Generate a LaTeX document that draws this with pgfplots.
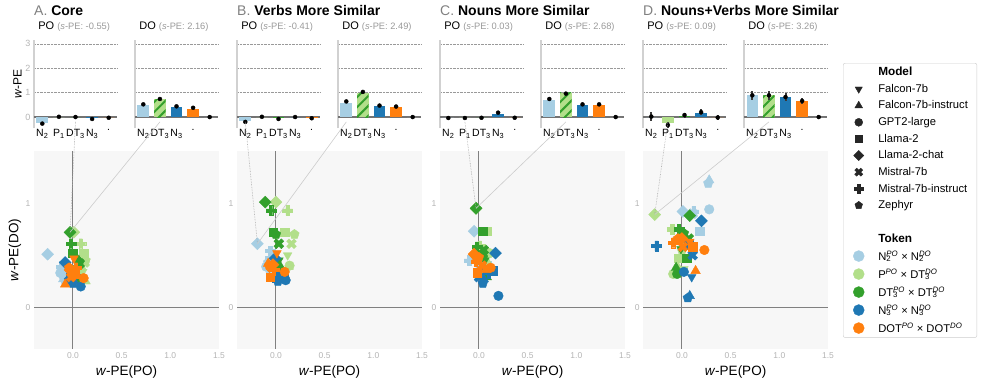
\documentclass[border=0pt]{standalone}
\usepackage{pgfplots}
\pgfplotsset{compat=1.18}
\usepackage{fontspec}
\setmainfont{Liberation Sans}
\usetikzlibrary{patterns.meta}
\definecolor{lb}{HTML}{A6CEE3}
\definecolor{lg}{HTML}{B2DF8A}
\definecolor{dg}{HTML}{33A02C}
\definecolor{db}{HTML}{1F78B4}
\definecolor{or}{HTML}{FF7F0E}
\definecolor{ebar}{HTML}{3A3A3A}
\definecolor{tickgray}{HTML}{B4B4B4}
\definecolor{hdrgray}{HTML}{999999}
\definecolor{titlegray}{HTML}{808080}
\newcommand\fs[1]{\fontsize{#1}{#1}\selectfont}
\newcommand\hdr[1]{{\fs{9.3}\color{hdrgray}(\textit{s}-PE: #1)}}
\newcommand\supsub[2]{\rlap{\textsubscript{#2}}\textsuperscript{\itshape #1}}
\newcommand\tstrut{\rule[-4.5pt]{0pt}{14pt}}
\pgfdeclareplotmark{tridown}{\pgftransformrotate{180}\pgfuseplotmark{triangle*}}
\pgfdeclareplotmark{dmd}{%
  \pgfpathmoveto{\pgfqpoint{0pt}{\pgfplotmarksize}}%
  \pgfpathlineto{\pgfqpoint{\pgfplotmarksize}{0pt}}%
  \pgfpathlineto{\pgfqpoint{0pt}{-\pgfplotmarksize}}%
  \pgfpathlineto{\pgfqpoint{-\pgfplotmarksize}{0pt}}%
  \pgfpathclose\pgfusepathqfillstroke}
\pgfdeclareplotmark{fatplus}{%
  \pgfpathmoveto{\pgfqpoint{-.33\pgfplotmarksize}{-\pgfplotmarksize}}%
  \pgfpathlineto{\pgfqpoint{.33\pgfplotmarksize}{-\pgfplotmarksize}}%
  \pgfpathlineto{\pgfqpoint{.33\pgfplotmarksize}{-.33\pgfplotmarksize}}%
  \pgfpathlineto{\pgfqpoint{\pgfplotmarksize}{-.33\pgfplotmarksize}}%
  \pgfpathlineto{\pgfqpoint{\pgfplotmarksize}{.33\pgfplotmarksize}}%
  \pgfpathlineto{\pgfqpoint{.33\pgfplotmarksize}{.33\pgfplotmarksize}}%
  \pgfpathlineto{\pgfqpoint{.33\pgfplotmarksize}{\pgfplotmarksize}}%
  \pgfpathlineto{\pgfqpoint{-.33\pgfplotmarksize}{\pgfplotmarksize}}%
  \pgfpathlineto{\pgfqpoint{-.33\pgfplotmarksize}{.33\pgfplotmarksize}}%
  \pgfpathlineto{\pgfqpoint{-\pgfplotmarksize}{.33\pgfplotmarksize}}%
  \pgfpathlineto{\pgfqpoint{-\pgfplotmarksize}{-.33\pgfplotmarksize}}%
  \pgfpathlineto{\pgfqpoint{-.33\pgfplotmarksize}{-.33\pgfplotmarksize}}%
  \pgfpathclose\pgfusepathqfillstroke}
\pgfdeclareplotmark{fatx}{\pgftransformrotate{45}\pgfuseplotmark{fatplus}}
\pgfplotsset{
  /pgf/number format/assume math mode=true,
  barax/.style={scale only axis, width=83pt, height=88pt, anchor=north west,
    xmin=-0.5, xmax=4.5, ymin=-0.45, ymax=3.16,
    axis x line*=bottom, axis y line*=left,
    x axis line style={draw=none},
    y axis line style={draw=black!18, line width=2pt},
    tick style={draw=none},
    xtick={0,1,2,3,4},
    ytick={1,2,3}, yticklabels={},
    ymajorgrids, major grid style={densely dotted, black!40, line width=0.6pt},
    extra y ticks={0}, extra y tick labels={},
    extra y tick style={grid=major, major grid style={solid, black!55, line width=1.1pt}},
    x tick label style={font=\fs{10.5}, black, inner sep=1pt},
    y tick label style={font=\fs{9}, tickgray},
    title style={at={(0.05,1)}, anchor=base west, yshift=4pt, inner sep=0pt, font=\fs{11}},
    clip=false},
  bb/.style={ybar, bar width=0.7, bar shift=0pt, draw=none},
  hatched/.style={postaction={pattern={Lines[angle=45,distance=7pt,line width=2pt]}, pattern color=dg}},
  eb/.style={only marks, mark=none, error bars/.cd, y dir=both, y explicit, error mark=none,
    error bar style={ebar, line width=2pt}},
  scatax/.style={scale only axis, width=185pt, height=198pt, anchor=north west,
    xmin=-0.4, xmax=1.5, ymin=-0.4, ymax=1.5,
    axis x line*=bottom, axis y line*=left, axis line style={draw=none},
    tick style={draw=none},
    axis background/.style={fill=black!3},
    xtick={0,0.5,1,1.5}, ytick={0,1},
    x tick label style={/pgf/number format/fixed, /pgf/number format/fixed zerofill, /pgf/number format/precision=1},
    extra x ticks={0}, extra y ticks={0}, extra x tick labels={}, extra y tick labels={},
    extra x tick style={grid=major, major grid style={black!50, line width=1pt}},
    extra y tick style={grid=major, major grid style={black!50, line width=1pt}},
    tick label style={font=\fs{8.5}, tickgray},
    xlabel={\textit{w}-PE(PO)}, xlabel style={font=\fs{13.5}, at={(0.5,-0.115)}, anchor=center},
    only marks, scatter src=explicit symbolic,
    scatter/classes={
      F={mark=tridown, mark size=5pt},
      FI={mark=triangle*, mark size=5.5pt},
      G={mark=*, mark size=4.8pt},
      L={mark=square*, mark size=4.3pt},
      LC={mark=dmd, mark size=6pt},
      M={mark=fatx, mark size=5.2pt},
      MI={mark=fatplus, mark size=5pt},
      Z={mark=pentagon*, mark size=5pt}}},
}
\begin{document}
\begin{tikzpicture}
\path[use as bounding box] (0pt,0pt) rectangle (981pt,-385pt);
\node[anchor=base west, inner sep=0pt, font=\fs{14}] at (34pt,-16pt) {{\color{titlegray}A.} \textbf{Core}};
\node[anchor=base west, inner sep=0pt, font=\fs{14}] at (237pt,-16pt) {{\color{titlegray}B.} \textbf{Verbs More Similar}};
\node[anchor=base west, inner sep=0pt, font=\fs{14}] at (440pt,-16pt) {{\color{titlegray}C.} \textbf{Nouns More Similar}};
\node[anchor=base west, inner sep=0pt, font=\fs{14}] at (643pt,-16pt) {{\color{titlegray}D.} \textbf{Nouns+Verbs More Similar}};

% ---------------- Panel A ----------------
\begin{axis}[barax, at={(34pt,-40pt)},
  xticklabels={N\textsubscript{2},P\textsubscript{1},DT\textsubscript{3},N\textsubscript{3},.},
  title={PO \hdr{-0.55}}, yticklabels={1,2,3}, extra y tick labels={0},
  ylabel={\textit{w}-PE}, ylabel style={font=\fs{12}, at={(-0.2,0.5)}, anchor=center}]
\addplot[bb, fill=lb] coordinates {(0,-0.25)};
\addplot[bb, fill=lg] coordinates {(1,0)};
\addplot[bb, fill=dg] coordinates {(2,0)};
\addplot[bb, fill=db] coordinates {(3,-0.06)};
\addplot[bb, fill=or] coordinates {(4,0)};
\addplot[eb] table[x=x, y=y, y error=e] {
x y e
0 -0.27 0.03
1 0.01 0.025
2 0.00 0.02
3 -0.08 0.03
4 -0.03 0.025
};
\coordinate (Ap) at (axis cs:2,-0.2);
\end{axis}
\begin{axis}[barax, at={(135pt,-40pt)},
  xticklabels={N\textsubscript{2},DT\textsubscript{3},N\textsubscript{3},.,{}},
  title={DO \hdr{2.16}}]
\addplot[bb, fill=lb] coordinates {(0,0.48)};
\addplot[bb, fill=lg, hatched] coordinates {(1,0.73)};
\addplot[bb, fill=db] coordinates {(2,0.41)};
\addplot[bb, fill=or] coordinates {(3,0.34)};
\addplot[bb, fill=black!30] coordinates {(4,0)};
\addplot[eb] table[x=x, y=y, y error=e] {
x y e
0 0.52 0.04
1 0.74 0.04
2 0.44 0.04
3 0.38 0.04
4 0.00 0.02
};
\coordinate (Ad) at (axis cs:1,-0.2);
\end{axis}
\begin{axis}[scatax, at={(34pt,-151pt)},
  ylabel={\textit{w}-PE(DO)}, ylabel style={font=\fs{13.5}, at={(-0.103,0.5)}, anchor=center}]
\addplot[scatter, lb] table[meta=m] {
x y m
-0.12 0.30 F
-0.10 0.27 FI
-0.13 0.33 G
-0.11 0.36 L
-0.26 0.51 LC
-0.09 0.31 M
-0.12 0.39 MI
-0.08 0.25 Z
};
\addplot[scatter, lg] table[meta=m] {
x y m
0.10 0.34 F
0.13 0.25 FI
0.08 0.37 G
0.11 0.52 L
0.01 0.72 LC
0.12 0.43 M
0.08 0.61 MI
0.13 0.45 Z
};
\addplot[scatter, dg] table[meta=m] {
x y m
0.05 0.38 F
0.06 0.45 FI
0.03 0.27 G
0.00 0.52 L
-0.03 0.72 LC
0.07 0.42 M
-0.02 0.61 MI
0.06 0.44 Z
};
\addplot[scatter, db] table[meta=m] {
x y m
0.00 0.25 F
-0.03 0.27 FI
0.08 0.20 G
-0.03 0.29 L
-0.08 0.43 LC
-0.04 0.25 M
0.02 0.30 MI
0.00 0.23 Z
};
\addplot[scatter, or] table[meta=m] {
x y m
0.01 0.47 F
-0.08 0.22 FI
0.11 0.28 G
0.02 0.32 L
-0.03 0.36 LC
-0.02 0.29 M
0.03 0.38 MI
-0.04 0.38 Z
};
\coordinate (As) at (axis cs:-0.03,0.72);
\end{axis}

% ---------------- Panel B ----------------
\begin{axis}[barax, at={(237pt,-40pt)},
  xticklabels={N\textsubscript{2},P\textsubscript{1},DT\textsubscript{3},N\textsubscript{3},.},
  title={PO \hdr{-0.41}}]
\addplot[bb, fill=lb] coordinates {(0,-0.16)};
\addplot[bb, fill=lg] coordinates {(1,0)};
\addplot[bb, fill=dg] coordinates {(2,-0.06)};
\addplot[bb, fill=db] coordinates {(3,0)};
\addplot[bb, fill=or] coordinates {(4,-0.03)};
\addplot[eb] table[x=x, y=y, y error=e] {
x y e
0 -0.20 0.03
1 0.01 0.03
2 -0.08 0.03
3 0.00 0.03
4 -0.05 0.03
};
\coordinate (Bp) at (axis cs:0,-0.2);
\end{axis}
\begin{axis}[barax, at={(338pt,-40pt)},
  xticklabels={N\textsubscript{2},DT\textsubscript{3},N\textsubscript{3},.,{}},
  title={DO \hdr{2.49}}]
\addplot[bb, fill=lb] coordinates {(0,0.59)};
\addplot[bb, fill=lg, hatched] coordinates {(1,1.00)};
\addplot[bb, fill=db] coordinates {(2,0.44)};
\addplot[bb, fill=or] coordinates {(3,0.41)};
\addplot[bb, fill=black!30] coordinates {(4,0)};
\addplot[eb] table[x=x, y=y, y error=e] {
x y e
0 0.64 0.04
1 1.03 0.04
2 0.47 0.04
3 0.43 0.04
4 0.00 0.03
};
\coordinate (Bd) at (axis cs:0,-0.2);
\end{axis}
\begin{axis}[scatax, at={(237pt,-151pt)}]
\addplot[scatter, lb] table[meta=m] {
x y m
-0.08 0.40 F
-0.05 0.36 FI
-0.10 0.39 G
-0.07 0.45 L
-0.19 0.61 LC
-0.04 0.38 M
-0.06 0.54 MI
-0.08 0.43 Z
};
\addplot[scatter, lg] table[meta=m] {
x y m
0.12 0.50 F
0.13 0.39 FI
0.14 0.40 G
0.09 0.72 L
0.00 1.01 LC
0.16 0.61 M
0.12 0.93 MI
0.19 0.70 Z
};
\addplot[scatter, dg] table[meta=m] {
x y m
0.03 0.45 F
0.04 0.40 FI
0.02 0.35 G
-0.03 0.72 L
-0.11 1.01 LC
0.03 0.61 M
-0.05 0.93 MI
0.00 0.70 Z
};
\addplot[scatter, db] table[meta=m] {
x y m
0.03 0.30 F
0.06 0.27 FI
0.10 0.26 G
0.01 0.28 L
-0.01 0.47 LC
0.04 0.32 M
0.07 0.30 MI
0.02 0.25 Z
};
\addplot[scatter, or] table[meta=m] {
x y m
0.01 0.52 F
-0.08 0.42 FI
0.09 0.34 G
-0.06 0.29 L
-0.03 0.41 LC
-0.04 0.38 M
-0.02 0.36 MI
-0.07 0.40 Z
};
\coordinate (Bs) at (axis cs:-0.19,0.61);
\end{axis}

% ---------------- Panel C ----------------
\begin{axis}[barax, at={(440pt,-40pt)},
  xticklabels={N\textsubscript{2},P\textsubscript{1},DT\textsubscript{3},N\textsubscript{3},.},
  title={PO \hdr{0.03}}]
\addplot[bb, fill=lb] coordinates {(0,0)};
\addplot[bb, fill=lg] coordinates {(1,0)};
\addplot[bb, fill=dg] coordinates {(2,0)};
\addplot[bb, fill=db] coordinates {(3,0.14)};
\addplot[bb, fill=or] coordinates {(4,0)};
\addplot[eb] table[x=x, y=y, y error=e] {
x y e
0 -0.04 0.03
1 -0.04 0.03
2 -0.03 0.03
3 0.18 0.04
4 -0.03 0.03
};
\coordinate (Cp) at (axis cs:1,-0.2);
\end{axis}
\begin{axis}[barax, at={(541pt,-40pt)},
  xticklabels={N\textsubscript{2},DT\textsubscript{3},N\textsubscript{3},.,{}},
  title={DO \hdr{2.68}}]
\addplot[bb, fill=lb] coordinates {(0,0.71)};
\addplot[bb, fill=lg, hatched] coordinates {(1,0.99)};
\addplot[bb, fill=db] coordinates {(2,0.51)};
\addplot[bb, fill=or] coordinates {(3,0.48)};
\addplot[bb, fill=black!30] coordinates {(4,0)};
\addplot[eb] table[x=x, y=y, y error=e] {
x y e
0 0.74 0.05
1 0.96 0.05
2 0.52 0.04
3 0.52 0.04
4 0.00 0.03
};
\coordinate (Cd) at (axis cs:1,-0.2);
\end{axis}
\begin{axis}[scatax, at={(440pt,-151pt)}]
\addplot[scatter, lb] table[meta=m] {
x y m
0.03 0.38 F
0.05 0.34 FI
0.01 0.36 G
0.08 0.40 L
-0.05 0.73 LC
0.10 0.37 M
-0.10 0.45 MI
0.06 0.43 Z
};
\addplot[scatter, lg] table[meta=m] {
x y m
0.07 0.48 F
0.09 0.43 FI
0.11 0.52 G
0.08 0.73 L
-0.03 0.95 LC
0.06 0.50 M
0.01 0.59 MI
0.10 0.52 Z
};
\addplot[scatter, dg] table[meta=m] {
x y m
0.06 0.45 F
0.08 0.29 FI
0.04 0.49 G
0.04 0.73 L
-0.03 0.95 LC
0.05 0.55 M
-0.02 0.58 MI
0.04 0.52 Z
};
\addplot[scatter, db] table[meta=m] {
x y m
0.06 0.37 F
0.05 0.27 FI
0.20 0.11 G
0.14 0.35 L
0.17 0.52 LC
0.00 0.29 M
0.10 0.33 MI
0.04 0.23 Z
};
\addplot[scatter, or] table[meta=m] {
x y m
-0.04 0.47 F
0.07 0.36 FI
0.12 0.38 G
-0.02 0.33 L
-0.05 0.51 LC
0.03 0.40 M
-0.03 0.44 MI
0.00 0.48 Z
};
\coordinate (Cs) at (axis cs:-0.03,0.95);
\end{axis}

% ---------------- Panel D ----------------
\begin{axis}[barax, at={(643pt,-40pt)},
  xticklabels={N\textsubscript{2},P\textsubscript{1},DT\textsubscript{3},N\textsubscript{3},.},
  title={PO \hdr{0.09}}]
\addplot[bb, fill=lb] coordinates {(0,0)};
\addplot[bb, fill=lg] coordinates {(1,-0.25)};
\addplot[bb, fill=dg] coordinates {(2,0.05)};
\addplot[bb, fill=db] coordinates {(3,0.18)};
\addplot[bb, fill=or] coordinates {(4,0)};
\addplot[eb] table[x=x, y=y, y error=e] {
x y e
0 0.02 0.17
1 -0.33 0.13
2 0.08 0.10
3 0.20 0.13
4 -0.02 0.12
};
\coordinate (Dp) at (axis cs:1,-0.2);
\end{axis}
\begin{axis}[barax, at={(744pt,-40pt)},
  xticklabels={N\textsubscript{2},DT\textsubscript{3},N\textsubscript{3},.,{}},
  title={DO \hdr{3.26}}]
\addplot[bb, fill=lb] coordinates {(0,0.89)};
\addplot[bb, fill=lg, hatched] coordinates {(1,0.89)};
\addplot[bb, fill=db] coordinates {(2,0.82)};
\addplot[bb, fill=or] coordinates {(3,0.66)};
\addplot[bb, fill=black!30] coordinates {(4,0)};
\addplot[eb] table[x=x, y=y, y error=e] {
x y e
0 0.89 0.18
1 0.89 0.18
2 0.82 0.18
3 0.66 0.12
4 0.00 0.03
};
\coordinate (Dd) at (axis cs:1,-0.2);
\end{axis}
\begin{axis}[scatax, at={(643pt,-151pt)}]
\addplot[scatter, lb] table[meta=m] {
x y m
0.13 0.90 F
0.28 1.22 FI
0.28 0.94 G
0.18 0.73 L
0.01 0.92 LC
0.11 0.90 M
0.12 0.92 MI
0.27 1.19 Z
};
\addplot[scatter, lg] table[meta=m] {
x y m
0.02 0.37 F
-0.05 0.40 FI
-0.09 0.32 G
-0.04 0.47 L
-0.28 0.89 LC
0.03 0.62 M
-0.10 0.75 MI
0.00 0.55 Z
};
\addplot[scatter, dg] table[meta=m] {
x y m
-0.01 0.56 F
-0.06 0.38 FI
-0.05 0.32 G
0.05 0.47 L
0.08 0.88 LC
0.07 0.66 M
-0.03 0.75 MI
0.02 0.71 Z
};
\addplot[scatter, db] table[meta=m] {
x y m
0.10 0.29 F
0.08 0.11 FI
0.02 0.34 G
0.07 0.60 L
0.20 0.83 LC
0.11 0.50 M
-0.26 0.59 MI
0.06 0.09 Z
};
\addplot[scatter, or] table[meta=m] {
x y m
0.08 0.63 F
0.14 0.35 FI
0.23 0.55 G
0.11 0.58 L
0.00 0.66 LC
0.01 0.58 M
-0.09 0.62 MI
-0.04 0.66 Z
};
\coordinate (Ds) at (axis cs:-0.28,0.89);
\end{axis}

% connection lines
\foreach \P in {A,B,C,D}{
  \draw[black!35, densely dotted, line width=0.6pt] (\P p) -- (\P s);
  \draw[black!20, line width=0.6pt] (\P d) -- (\P s);
}

% legend
\begin{axis}[at={(843pt,-63pt)}, anchor=north west, scale only axis, width=10pt, height=10pt,
  hide axis, xmin=0, xmax=1, ymin=0, ymax=1, legend cell align=left,
  legend style={at={(0,1)}, anchor=north west, draw=black!20, rounded corners=2pt,
    font=\fs{11.2}, inner xsep=7pt, inner ysep=2pt, row sep=3pt,
    /tikz/every odd column/.append style={column sep=12pt}}]
\addlegendimage{empty legend}\addlegendentry{\fs{11.8}\textbf{Model}}
\addlegendimage{only marks, black!85, mark=tridown, mark size=4.2pt}\addlegendentry{Falcon-7b}
\addlegendimage{only marks, black!85, mark=triangle*, mark size=4.5pt}\addlegendentry{Falcon-7b-instruct}
\addlegendimage{only marks, black!85, mark=*, mark size=4pt}\addlegendentry{GPT2-large}
\addlegendimage{only marks, black!85, mark=square*, mark size=3.6pt}\addlegendentry{Llama-2}
\addlegendimage{only marks, black!85, mark=dmd, mark size=5pt}\addlegendentry{Llama-2-chat}
\addlegendimage{only marks, black!85, mark=fatx, mark size=4.3pt}\addlegendentry{Mistral-7b}
\addlegendimage{only marks, black!85, mark=fatplus, mark size=4.2pt}\addlegendentry{Mistral-7b-instruct}
\addlegendimage{only marks, black!85, mark=pentagon*, mark size=4pt}\addlegendentry{Zephyr}
\addlegendimage{empty legend}\addlegendentry{\strut}
\addlegendimage{empty legend}\addlegendentry{\fs{11.8}\textbf{Token}}
\addlegendimage{only marks, lb, mark=*, mark size=5.5pt}\addlegendentry{\tstrut N\supsub{PO}{2} × N\supsub{DO}{2}}
\addlegendimage{only marks, lg, mark=*, mark size=5.5pt}\addlegendentry{\tstrut P\textsuperscript{\itshape PO} × DT\supsub{DO}{3}}
\addlegendimage{only marks, dg, mark=*, mark size=5.5pt}\addlegendentry{\tstrut DT\supsub{PO}{3} × DT\supsub{DO}{3}}
\addlegendimage{only marks, db, mark=*, mark size=5.5pt}\addlegendentry{\tstrut N\supsub{PO}{3} × N\supsub{DO}{3}}
\addlegendimage{only marks, or, mark=*, mark size=5.5pt}\addlegendentry{\tstrut DOT\textsuperscript{\itshape PO} × DOT\textsuperscript{\itshape DO}}
\end{axis}
\end{tikzpicture}
\end{document}
